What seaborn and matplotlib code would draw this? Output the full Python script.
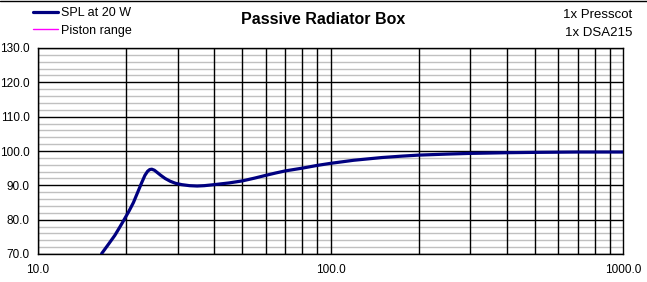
import numpy as np
import pandas as pd
import matplotlib
matplotlib.use("Agg")
import matplotlib.pyplot as plt
import seaborn as sns
from matplotlib.lines import Line2D
from matplotlib.ticker import FixedLocator, NullFormatter, FuncFormatter

# --- datos ---
freq_hz = [16.5, 17.4, 18.3, 19.0, 19.7, 20.5, 21.2, 22.0, 22.6, 23.2, 23.7,
           24.1, 24.5, 25.0, 25.6, 26.3, 27.2, 28.3, 29.5, 31, 33, 35, 37,
           40, 45, 50, 55, 60, 65, 70, 80, 90, 100, 120, 150, 175, 200, 250,
           300, 400, 500, 700, 1000]
spl_db = [70.1, 72.8, 75.4, 77.7, 80.0, 82.6, 85.0, 88.3, 90.7, 92.9, 94.1,
          94.6, 94.7, 94.4, 93.7, 92.9, 92.0, 91.2, 90.6, 90.2, 89.9, 89.8,
          89.9, 90.2, 90.7, 91.3, 92.1, 92.9, 93.6, 94.2, 95.0, 95.8, 96.4,
          97.3, 98.1, 98.5, 98.8, 99.1, 99.3, 99.5, 99.6, 99.7, 99.7]

title = "Passive Radiator Box"
series_names = ["SPL at 20 W", "Piston range"]
notes = ["1x Presscot", "1x DSA215"]
x_major = [10, 100, 1000]
y_min, y_max = 70, 130

df = pd.DataFrame({"freq": freq_hz, "spl": spl_db})

sns.set_style("white")
plt.rcParams["font.family"] = ["Liberation Sans", "DejaVu Sans"]
plt.rcParams["text.color"] = "black"
plt.rcParams["xtick.color"] = "black"
plt.rcParams["ytick.color"] = "black"

fig = plt.figure(figsize=(6.47, 2.82), dpi=100)
ax = fig.add_axes([38 / 647, 28 / 282, 585 / 647, 206 / 282])

ax.set_xscale("log")
ax.set_xlim(10, 1000)
ax.set_ylim(y_min, y_max)

# rejilla
for y in range(y_min, y_max + 1, 2):
    if y % 10 == 0:
        ax.axhline(y, color="black", lw=1, zorder=1)
    else:
        ax.axhline(y, color="#c0c0c0", lw=1, zorder=0.5)
for dec in [10, 100]:
    for m in range(1, 10):
        ax.axvline(dec * m, color="black", lw=1, zorder=1)

sns.lineplot(data=df, x="freq", y="spl", ax=ax, color="#000080", lw=2.3,
             zorder=3, legend=False)

ax.xaxis.set_major_locator(FixedLocator(x_major))
ax.xaxis.set_minor_locator(FixedLocator([]))
ax.xaxis.set_major_formatter(FuncFormatter(lambda v, p: f"{v:.1f}"))
ax.xaxis.set_minor_formatter(NullFormatter())
ax.set_yticks(range(y_min, y_max + 1, 10))
ax.yaxis.set_major_formatter(FuncFormatter(lambda v, p: f"{v:.1f}"))
ax.tick_params(axis="both", labelsize=8.5, length=4, width=1, color="black",
               labelcolor="black", direction="out", pad=2)
ax.tick_params(axis="x", pad=3)
ax.set_xlabel("")
ax.set_ylabel("")
for s in ax.spines.values():
    s.set_color("black")
    s.set_linewidth(1)

fig.text(0.5, 1 - 20 / 282, title, ha="center", va="center",
         fontsize=11.5, fontweight="bold")
fig.text(632 / 647, 1 - 15 / 282, notes[0], ha="right", va="center", fontsize=9.5)
fig.text(632 / 647, 1 - 33 / 282, notes[1], ha="right", va="center", fontsize=9.5)

handles = [Line2D([], [], color="#000080", lw=2.3),
           Line2D([], [], color="#ff00ff", lw=1)]
fig.legend(handles, series_names, loc="upper left",
           bbox_to_anchor=(33 / 647, 1 - 7 / 282), frameon=False,
           fontsize=9, handlelength=2.0, handletextpad=0.25,
           labelspacing=0.45, borderpad=0, borderaxespad=0)

fig.add_artist(Line2D([0, 1], [0.998, 0.998], color="black", lw=1,
                      transform=fig.transFigure))

fig.savefig("out.png", dpi=100)
